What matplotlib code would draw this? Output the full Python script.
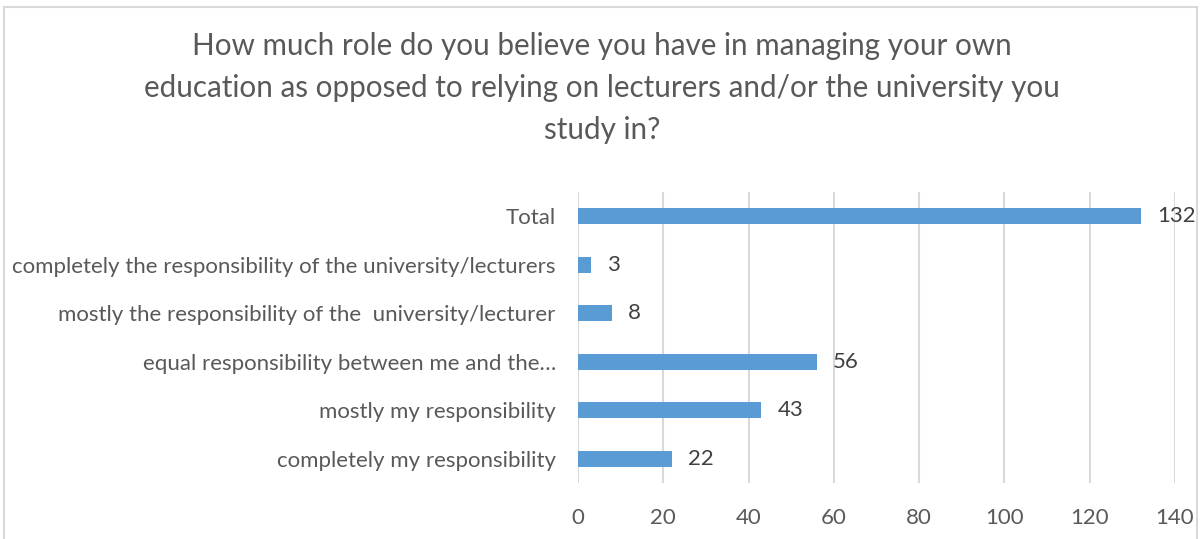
import matplotlib.pyplot as plt
from matplotlib.patches import Rectangle

categories = [
    "completely my responsibility",
    "mostly my responsibility",
    "equal responsibility between me and the\u2026",
    "mostly the responsibility of the  university/lecturer",
    "completely the responsibility of the university/lecturers",
    "Total",
]
counts = [22, 43, 56, 8, 3, 132]
x_ticks = [0, 20, 40, 60, 80, 100, 120, 140]

title = ("How much role do you believe you have in managing your own\n"
         "education as opposed to relying on lecturers and/or the university you\n"
         "study in?")

text_col = "#595959"
value_col = "#404040"
bar_col = "#5B9BD5"
grid_col = "#D9D9D9"

plt.rcParams["font.family"] = ["Lato", "DejaVu Sans"]

W, H = 1202, 539
fig = plt.figure(figsize=(W / 100, H / 100), dpi=100)

# chart border, open at the bottom edge of the image
fig.add_artist(Rectangle((4 / W, -0.05), 1193 / W, (H - 7) / H + 0.05,
                         transform=fig.transFigure, fill=False,
                         edgecolor="#D9D9D9", linewidth=1.5))

left, right, top, bottom = 578, 1175, 192, 483
ax = fig.add_axes([left / W, (H - bottom) / H, (right - left) / W, (bottom - top) / H])

ypos = range(len(categories))
ax.barh(ypos, counts, height=0.33, color=bar_col, zorder=3)
for y, v in zip(ypos, counts):
    ax.annotate(str(v), (v, y), xytext=(11.5, 0), textcoords="offset points",
                va="center", ha="left", fontsize=16, color=value_col)

ax.set_xlim(0, 140)
ax.set_ylim(-0.5, len(categories) - 0.5)
ax.set_xticks(x_ticks)
ax.set_yticks(list(ypos))
ax.set_yticklabels(categories)
ax.xaxis.grid(True, color=grid_col, linewidth=1.5, zorder=0)
ax.tick_params(axis="both", length=0, labelsize=16, labelcolor=text_col)
ax.tick_params(axis="x", pad=18)
ax.tick_params(axis="y", pad=16)
for s in ax.spines.values():
    s.set_visible(False)

fig.text(602 / W, 1 - 88 / H, title, ha="center", va="center", fontsize=21.3,
         color=text_col, linespacing=1.6)

fig.savefig("out.png", dpi=100)
